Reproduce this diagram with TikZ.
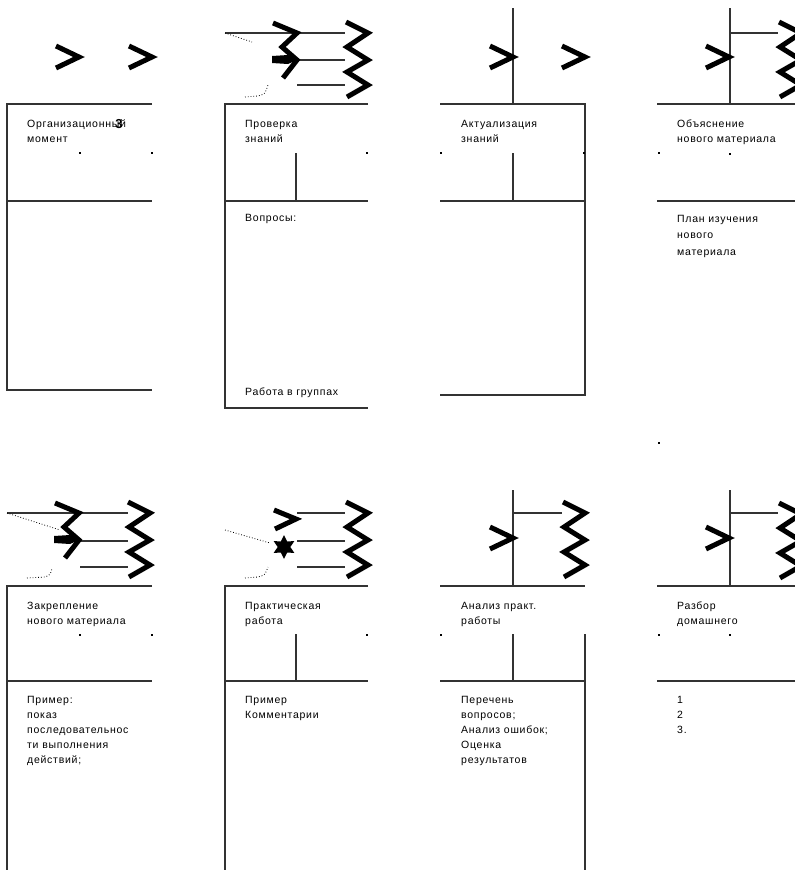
\documentclass[tikz,border=0pt]{standalone}
\usepackage{fontspec}
\setmainfont{Liberation Sans}[LetterSpace=7.0]
\usetikzlibrary{shapes.geometric}
\newcommand\chevr[2]{\draw[chev] (#1,#2) -- ++(23,11) -- ++(-23,11);}
\newcommand\zigz[2]{\draw[chev] (#1,#2) -- ++(22,11) -- ++(-21,14) -- ++(21,13) -- ++(-21,12) -- ++(21,13) -- ++(-21,12);}
\newcommand\sigshape[2]{\begin{scope}[shift={(#1,#2)}]
  \draw[chev] (0,0) -- (24,10) -- (9,24) -- (24,37) -- (10,55);
  \fill (-1,33) -- (15,32) -- (24,37) -- (15,41) -- (-1,40) -- cycle;
\end{scope}}
\newcommand\dotm[2]{\fill (#1,#2) rectangle ++(1.6,1.6);}
\begin{document}
\begin{tikzpicture}[x=1pt,y=-1pt,
  frame/.style={line width=1.2pt, draw=black!80},
  chev/.style={line width=5pt, line join=miter, line cap=butt},
  lbl/.style={anchor=north west, inner sep=0pt, align=left, font=\fontsize{10.5}{15}\selectfont},
  dotl/.style={line width=0.8pt, dotted}
]
\useasboundingbox (0,0) rectangle (795,870);
\clip (0,0) rectangle (795,870);

% ---------- Panel 1 ----------
\draw[frame] (152,104) -- (7,104) -- (7,390) -- (152,390);
\draw[frame] (7,201) -- (152,201);
\chevr{56}{46}
\chevr{129}{46}
\node[lbl] (t1) at (27,120) {Организационный\\момент};
\node[inner sep=0pt, font=\fontsize{13}{13}\selectfont\bfseries] (t1b) at (119,124) {3};
\dotm{79}{152}\dotm{151}{152}

% ---------- Panel 2 ----------
\draw[frame] (368,104) -- (225,104) -- (225,408) -- (368,408);
\draw[frame] (225,201) -- (368,201);
\draw[frame] (296,153) -- (296,201);
\draw[frame] (225,33) -- (345,33);
\draw[frame] (297,60) -- (345,60);
\draw[frame] (297,85) -- (345,85);
\sigshape{273}{23}
\zigz{346}{22}
\draw[dotl] (225,33) -- (252,42);
\draw[dotl] (245,97) -- (258,96) .. controls (265,94) .. (268,85);
\node[lbl] (t2) at (245,120) {Проверка\\знаний};
\node[lbl] (t2b) at (245,214) {Вопросы:};
\node[lbl] (t2c) at (245,388) {Работа в группах};
\dotm{366}{152}

% ---------- Panel 3 ----------
\draw[frame] (513,8) -- (513,104);
\draw[frame] (440,104) -- (585,104) -- (585,395) -- (440,395);
\draw[frame] (440,201) -- (585,201);
\draw[frame] (513,153) -- (513,201);
\chevr{490}{46}
\chevr{562}{46}
\node[lbl] (t3) at (461,120) {Актуализация\\знаний};
\dotm{440}{152}\dotm{583}{152}

% ---------- Panel 4 ----------
\draw[frame] (730,8) -- (730,104);
\draw[frame] (730,33) -- (778,33);
\draw[frame] (657,104) -- (795,104);
\draw[frame] (657,201) -- (795,201);
\chevr{706}{46}
\zigz{779}{22}
\node[lbl] (t4) at (677,120) {Объяснение\\нового материала};
\node[lbl, font=\fontsize{10.5}{16.5}\selectfont] (t4b) at (677,215) {План изучения\\нового\\материала};
\dotm{658}{152}\dotm{729}{153}\dotm{658}{442}

% ---------- Panel 5 ----------
\draw[frame] (152,586) -- (7,586) -- (7,870);
\draw[frame] (7,681) -- (152,681);
\draw[frame] (7,513) -- (128,513);
\draw[frame] (80,541) -- (128,541);
\draw[frame] (80,567) -- (128,567);
\sigshape{55}{503}
\zigz{128}{502}
\draw[dotl] (7,513) -- (60,530);
\draw[dotl] (27,578) -- (45,577) .. controls (50,575) .. (52,569);
\node[lbl] (t5) at (27,602) {Закрепление\\нового материала};
\node[lbl] (t5b) at (27,696) {Пример:\\показ\\последовательнос\\ти выполнения\\действий;};
\dotm{79}{634}\dotm{151}{634}

% ---------- Panel 6 ----------
\draw[frame] (368,586) -- (225,586) -- (225,870);
\draw[frame] (225,681) -- (368,681);
\draw[frame] (296,634) -- (296,681);
\draw[frame] (297,513) -- (345,513);
\draw[frame] (297,541) -- (345,541);
\draw[frame] (297,567) -- (345,567);
\draw[chev] (274,510) -- (296,519) -- (275,529);
\node[star, star points=6, star point ratio=1.9, fill=black, inner sep=0pt, minimum size=24pt] (st6) at (284,547) {};
\zigz{346}{502}
\draw[dotl] (225,530) -- (270,543);
\draw[dotl] (245,578) -- (258,577) .. controls (265,575) .. (268,567);
\node[lbl] (t6) at (245,602) {Практическая\\работа};
\node[lbl] (t6b) at (245,696) {Пример\\Комментарии};
\dotm{366}{634}

% ---------- Panel 7 ----------
\draw[frame] (513,490) -- (513,586);
\draw[frame] (513,513) -- (562,513);
\draw[frame] (440,586) -- (585,586);
\draw[frame] (440,681) -- (585,681);
\draw[frame] (513,634) -- (513,681);
\draw[frame] (585,634) -- (585,870);
\chevr{490}{527}
\zigz{563}{502}
\node[lbl] (t7) at (461,602) {Анализ практ.\\работы};
\node[lbl] (t7b) at (461,696) {Перечень\\вопросов;\\Анализ ошибок;\\Оценка\\результатов};
\dotm{440}{634}

% ---------- Panel 8 ----------
\draw[frame] (730,490) -- (730,586);
\draw[frame] (730,513) -- (778,513);
\draw[frame] (657,586) -- (795,586);
\draw[frame] (657,681) -- (795,681);
\chevr{706}{527}
\zigz{779}{503}
\node[lbl] (t8) at (677,602) {Разбор\\домашнего};
\node[lbl] (t8b) at (677,696) {1\\2\\3.};
\dotm{658}{634}\dotm{729}{634}
\end{tikzpicture}
\end{document}
